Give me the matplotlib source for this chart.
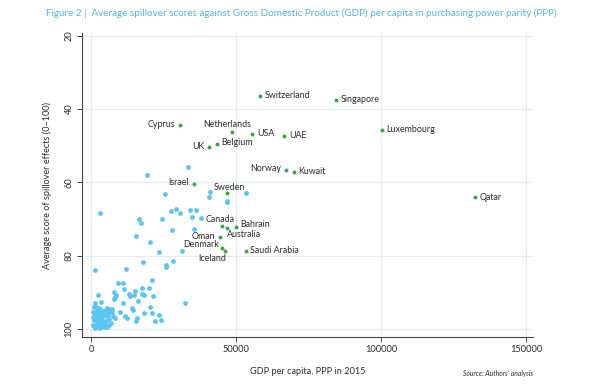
import matplotlib
matplotlib.use("Agg")
import matplotlib.pyplot as plt

plt.rcParams['font.family'] = ['Lato', 'DejaVu Sans']

# labelled (green) countries
names = ["Switzerland", "Singapore", "Cyprus", "Netherlands", "USA", "UAE",
         "Belgium", "UK", "Norway", "Kuwait", "Israel", "Sweden", "Canada",
         "Australia", "Bahrain", "Oman", "Denmark", "Iceland", "Saudi Arabia",
         "Luxembourg", "Qatar"]
named_gdp = [58300, 84500, 30800, 48700, 55500, 66600, 43300, 40700, 67300,
             69900, 35400, 47000, 45200, 47000, 49900, 44500, 45200, 46100,
             53300, 100300, 132400]
named_score = [36.4, 37.5, 44.3, 46.4, 46.8, 47.3, 49.5, 50.3, 56.7, 57.2,
               60.4, 63.0, 71.8, 72.4, 72.2, 75.0, 77.8, 78.7, 78.7, 45.7, 64.1]

# other countries (blue)
other_gdp = [33300, 19200, 25500, 40900, 40800, 53600, 46800, 46900, 3100,
             27500, 29200, 30600, 34300, 36200, 16400, 17200, 24400, 35000,
             37900, 35600, 27900, 15500, 20200, 23400, 31300, 18000, 28400,
             25900, 26000, 12000, 1500, 21000,
             32400, 9400, 10900, 8000, 8600, 8200, 7800, 11500, 13200, 13400,
             15100, 14900, 17600, 17500, 18400, 20100, 21500, 2400, 11000,
             16300, 14100, 14400, 18300, 20400, 21100, 23300, 22100, 24000,
             15500, 15900, 12300, 11900, 9900, 6100, 7100, 7300, 5700, 7700,
             8400, 3400, 1500, 1500,
             1100, 2000, 2800, 800, 1700, 2500, 3300, 1400, 2200, 3100, 4000,
             4800, 5400, 800, 1700, 2500, 3300, 4300, 5200, 6000, 1100, 2000,
             2900, 3700, 4500, 5400, 6300, 800, 1700, 2500, 3300, 4300, 5200,
             6100, 6800, 1400, 3100, 4800, 1100, 2800, 5400]
other_score = [55.9, 58.0, 63.3, 62.7, 64.0, 62.8, 65.1, 65.5, 68.4,
               67.8, 67.2, 68.5, 67.7, 67.6, 70.0, 71.1, 69.9, 69.5,
               69.7, 72.8, 73.1, 74.6, 76.3, 79.1, 78.8, 81.7, 81.5,
               82.6, 83.2, 83.7, 84.0, 86.6,
               92.9, 87.5, 87.5, 90.0, 90.7, 91.3, 91.9, 89.2, 90.4, 91.0,
               89.7, 90.7, 88.8, 90.4, 90.7, 88.8, 90.9, 90.8, 93.0,
               92.4, 94.2, 94.9, 95.6, 93.9, 95.6, 96.2, 97.9, 97.7,
               97.8, 96.9, 96.9, 96.4, 95.4, 94.6, 94.6, 95.3, 96.1, 96.6,
               97.1, 92.7, 93.0, 93.7,
               94.0, 94.4, 94.2, 95.3, 95.3, 95.0, 94.8, 95.9, 96.2, 95.7, 95.6,
               94.8, 94.4, 96.7, 96.8, 97.1, 96.7, 96.5, 96.2, 95.7, 97.6, 98.0,
               97.8, 97.6, 98.0, 97.6, 97.4, 98.9, 99.2, 98.9, 98.7, 99.1, 98.9,
               98.9, 98.5, 99.8, 99.7, 99.6, 99.2, 99.4, 99.4]

# label placement: (dx, dy) in points, ha
label_pos = {
    "Switzerland": (3.5, 0, "left"),
    "Singapore": (3.5, 0, "left"),
    "Cyprus": (-4, 0, "right"),
    "Netherlands": (-3.5, 5.5, "center"),
    "USA": (3.5, 0.5, "left"),
    "UAE": (3.5, 0, "left"),
    "Belgium": (3.5, 1, "left"),
    "UK": (-3.5, 0, "right"),
    "Norway": (-3.5, 1, "right"),
    "Kuwait": (3.5, 0, "left"),
    "Israel": (-3.5, 1, "right"),
    "Sweden": (1.5, 4.5, "center"),
    "Canada": (-1.5, 4, "center"),
    "Australia": (-0.5, -4.8, "left"),
    "Bahrain": (3.5, 1.5, "left"),
    "Oman": (-3.5, 0.5, "right"),
    "Denmark": (-2.5, 2, "right"),
    "Iceland": (1, -5.3, "right"),
    "Saudi Arabia": (3.5, 0, "left"),
    "Luxembourg": (3.5, 0, "left"),
    "Qatar": (3.5, 0, "left"),
}

blue = "#5bc5f2"
green = "#3fa24c"
grid_c = "#e3edf1"
text_c = "#2b2b2b"

fig = plt.figure(figsize=(5.96, 3.84), dpi=100)
ax = fig.add_axes([0.1376, 0.1224, 0.7564, 0.7916])

ax.scatter(other_gdp, other_score, s=12, color=blue, linewidths=0, zorder=3)
ax.scatter(named_gdp, named_score, s=8, color=green, linewidths=0, zorder=3)

for n, gx, sc in zip(names, named_gdp, named_score):
    dx, dy, ha = label_pos[n]
    ax.annotate(n, (gx, sc), xytext=(dx, dy), textcoords="offset points",
                ha=ha, va="center", fontsize=6.4, color=text_c, zorder=4)

ax.set_xlim(-3100, 152400)
ax.set_ylim(102.2, 19.3)
ax.set_xticks([0, 50000, 100000, 150000])
ax.set_xticklabels(["0", "50000", "100000", "150000"])
ax.set_yticks([20, 40, 60, 80, 100])
ax.grid(True, color=grid_c, linewidth=0.9, zorder=0)
ax.set_axisbelow(True)

for s in ["top", "right"]:
    ax.spines[s].set_visible(False)
for s in ["left", "bottom"]:
    ax.spines[s].set_color("#444444")
    ax.spines[s].set_linewidth(0.8)

ax.tick_params(axis="both", colors="#444444", labelcolor=text_c,
               labelsize=6.7, length=3.5, width=0.7, pad=2.5)
for lab in ax.get_yticklabels():
    lab.set_rotation(90)
    lab.set_va("center")

ax.set_xlabel("GDP per capita, PPP in 2015", fontsize=6.6, color=text_c, labelpad=9)
ax.set_ylabel("Average score of spillover effects (0\u2013100)", fontsize=6.6,
              color=text_c, labelpad=9)

fig.text(0.077, 0.966, "Figure 2 |  Average spillover scores against Gross Domestic "
         "Product (GDP) per capita in purchasing power parity (PPP)",
         fontsize=7.15, color="#55b5e5", ha="left", va="center")
fig.text(0.894, 0.028, "Source: Authors\u2019 analysis", fontsize=4.9,
         color=text_c, style="italic", ha="right", va="center")

fig.savefig("out.png", dpi=100)
